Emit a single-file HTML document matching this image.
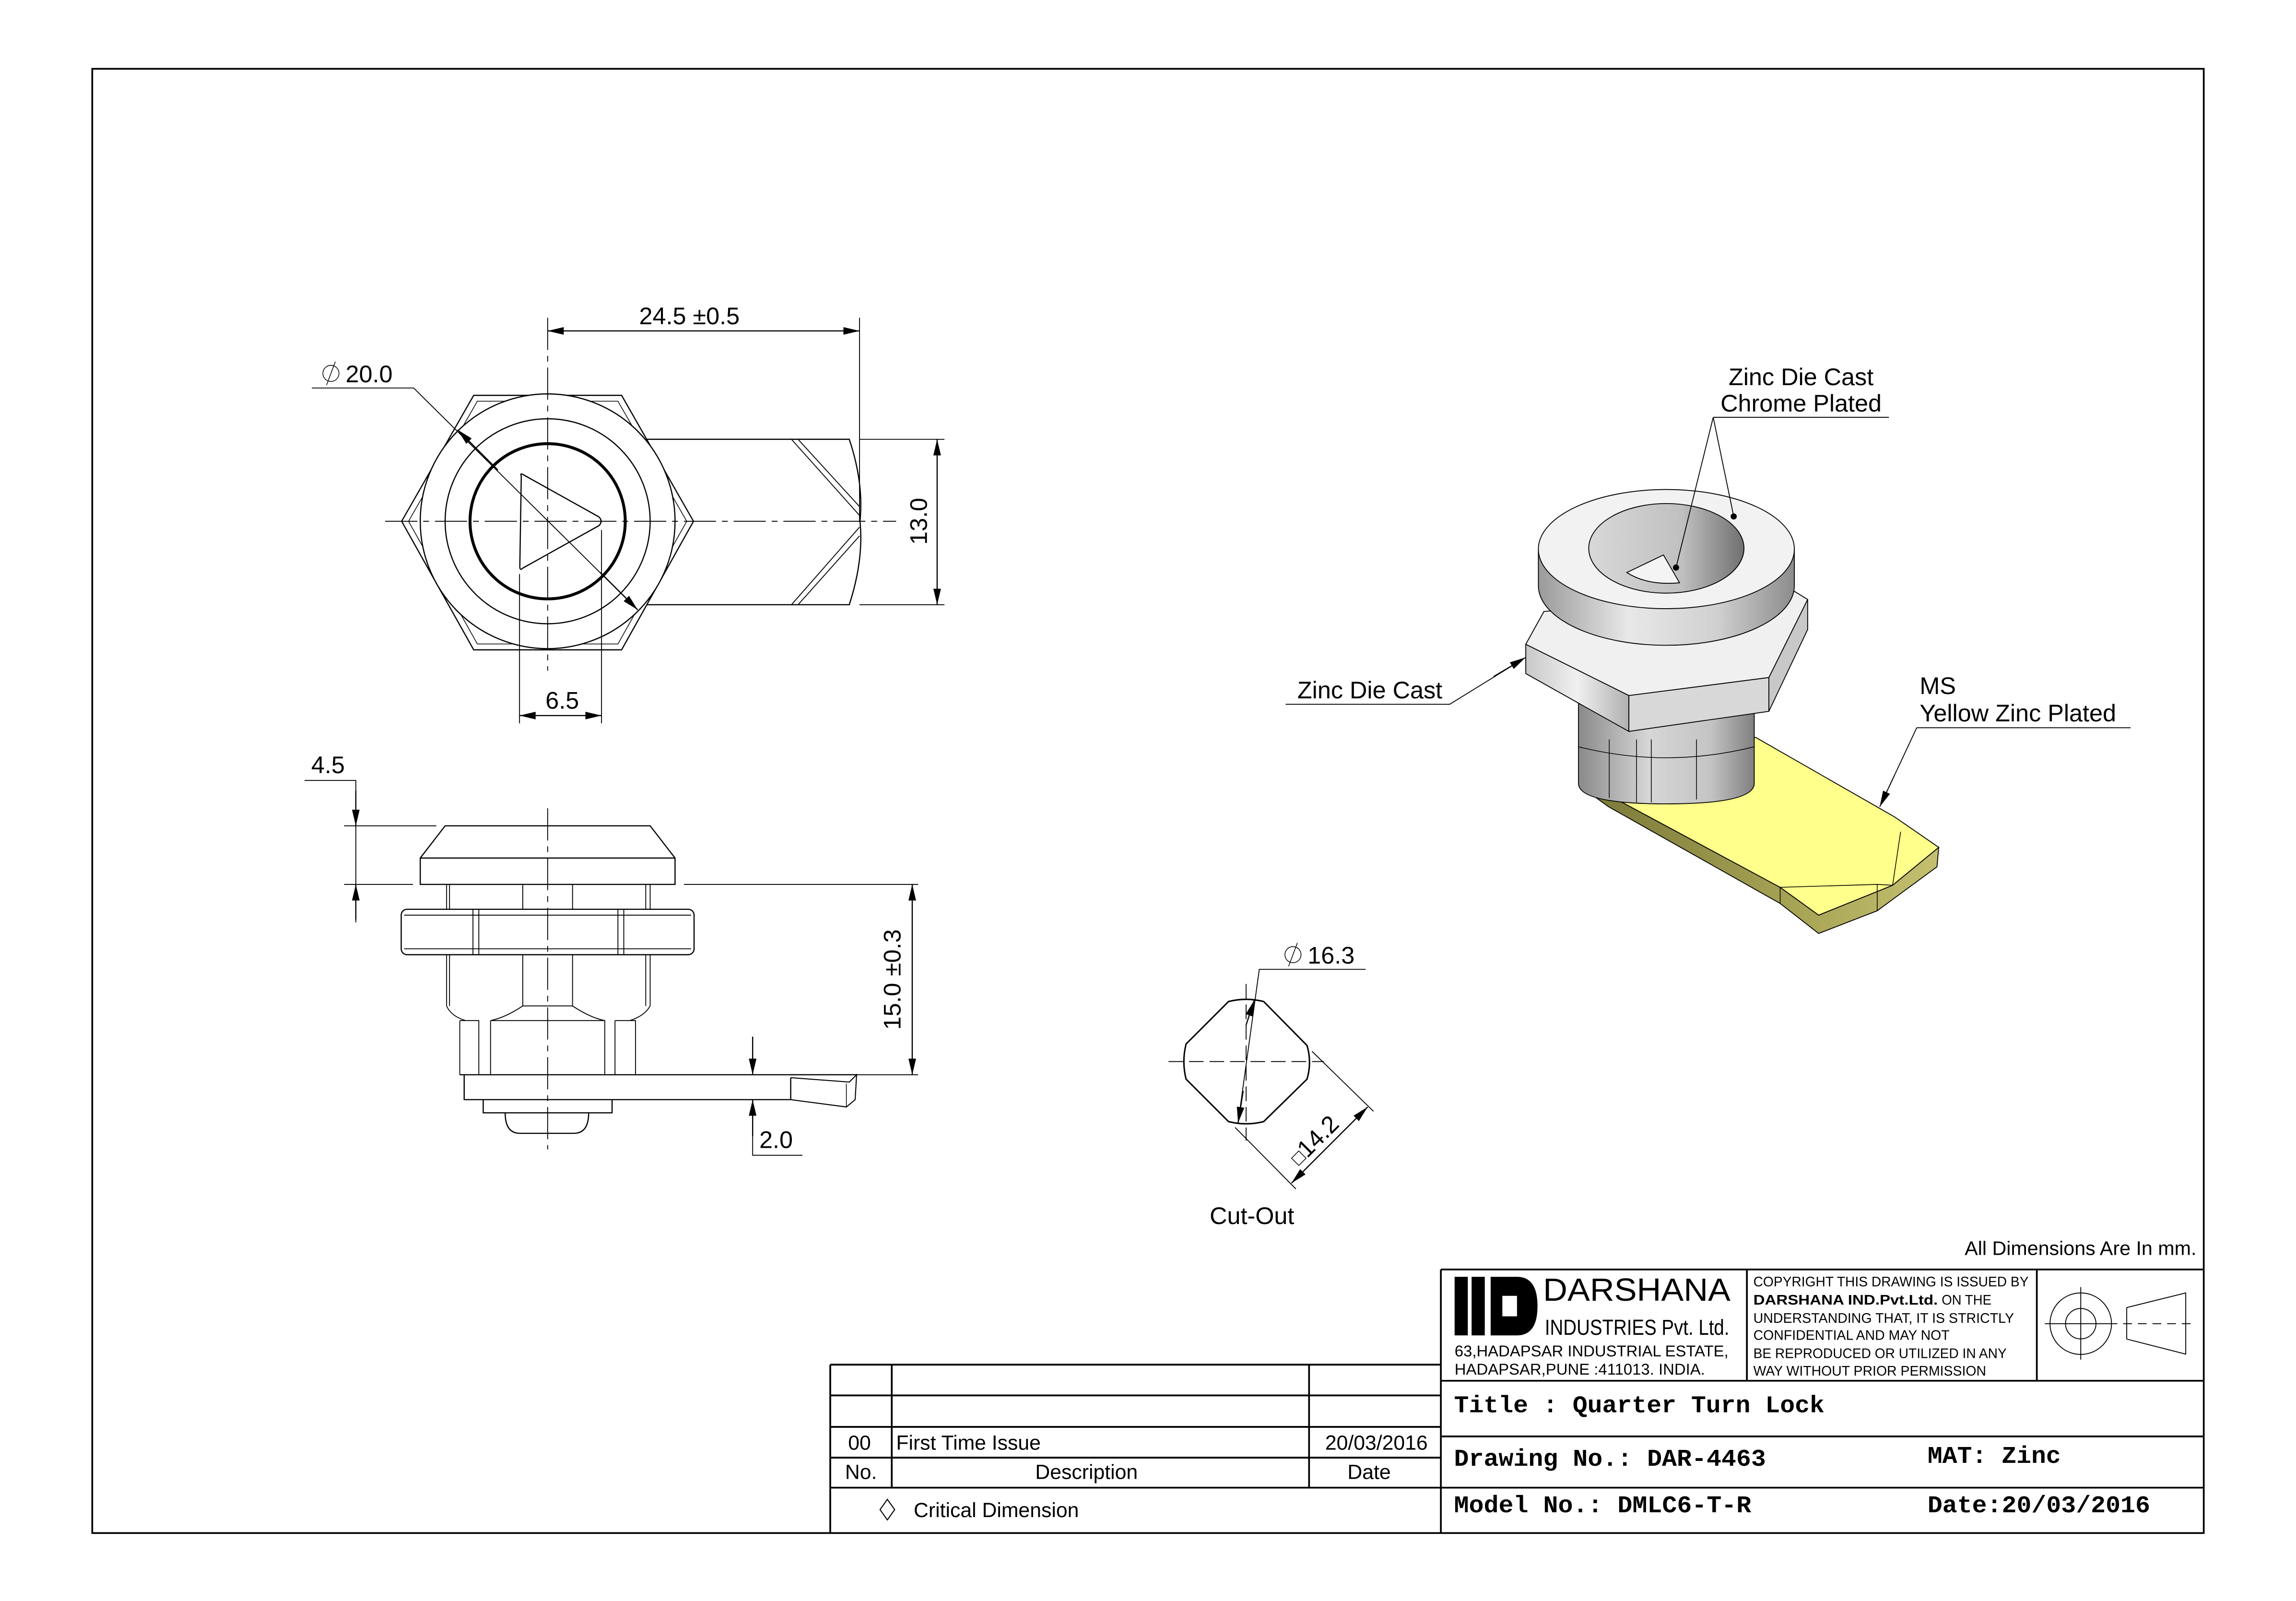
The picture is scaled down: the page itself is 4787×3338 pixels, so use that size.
<!DOCTYPE html>
<html><head><meta charset="utf-8"><style>
html,body{margin:0;padding:0;background:#fff;}
svg{display:block;}
text{font-family:"Liberation Sans",sans-serif;fill:#000;}
.m{font-family:"Liberation Mono",monospace;font-weight:bold;}
</style></head><body>
<svg width="4787" height="3338" viewBox="0 0 1568 1093.4" preserveAspectRatio="none" xmlns="http://www.w3.org/2000/svg">
<defs>
<marker id="a" markerUnits="userSpaceOnUse" markerWidth="12" markerHeight="6" refX="11" refY="3" orient="auto-start-reverse"><path d="M0,0.4 L11,3 L0,5.6 Z" fill="#000"/></marker>
<linearGradient id="gc" x1="0" x2="1"><stop offset="0" stop-color="#9a9a9a"/><stop offset="0.35" stop-color="#e8e8e8"/><stop offset="0.7" stop-color="#d0d0d0"/><stop offset="1" stop-color="#8c8c8c"/></linearGradient>
<linearGradient id="gh" x1="0" x2="1"><stop offset="0" stop-color="#c8c8c8"/><stop offset="0.5" stop-color="#f0f0f0"/><stop offset="1" stop-color="#b0b0b0"/></linearGradient>
<linearGradient id="gi" x1="0" x2="1"><stop offset="0" stop-color="#d8d8d8"/><stop offset="0.6" stop-color="#c0c0c0"/><stop offset="1" stop-color="#707070"/></linearGradient>
<linearGradient id="gb" x1="0" x2="1"><stop offset="0" stop-color="#8a8a8a"/><stop offset="0.4" stop-color="#d6d6d6"/><stop offset="0.75" stop-color="#c4c4c4"/><stop offset="1" stop-color="#808080"/></linearGradient>
<linearGradient id="gy" x1="0" x2="1"><stop offset="0" stop-color="#7a7838"/><stop offset="0.6" stop-color="#a8a456"/><stop offset="1" stop-color="#c4c070"/></linearGradient>
</defs>

<!-- border -->
<rect x="63" y="47" width="1442" height="1000" fill="none" stroke="#000" stroke-width="1.2"/>

<g fill="none" stroke="#000" stroke-width="0.8">
<!-- ===== TOP VIEW ===== -->
<polygon points="274.3,356 323.5,270 424.5,270 473.6,356 424.5,443.8 323.5,443.8"/>
<polygon points="279,356 326,274 422,274 469,356 422,439.8 326,439.8" stroke-width="0.5"/>
<path d="M442,300 H540.5 L580,300 Q590,330 587.3,356 Q590,382 580,413 H540.5 H442" />
<path d="M540.5,300 L587,352 M545,300 L587,346 M540.5,413 L587,360 M545,413 L587,366" stroke-width="0.6"/>
<circle cx="374" cy="356" r="87" fill="#fff"/>
<circle cx="374" cy="356" r="70"/>
<circle cx="374" cy="356" r="53" stroke-width="2"/>
<path d="M356,325 Q355,323 357,324 L409,353 Q412,356 409,359 L357,388 Q355,390 355,387 Z"/>
<path d="M263,356 H612" stroke-dasharray="22,4,4,4" stroke-width="0.6"/>
<path d="M374,217 V458" stroke-dasharray="22,4,4,4" stroke-width="0.6"/>
<!-- dims top -->
<path d="M374,226 H587" marker-start="url(#a)" marker-end="url(#a)"/>
<path d="M587,217 V356" stroke-width="0.6"/>
<path d="M587,300 H645 M587,413 H645" stroke-width="0.6"/>
<path d="M640,300 V413" marker-start="url(#a)" marker-end="url(#a)"/>
<path d="M354.8,392 V494 M410.8,362 V494" stroke-width="0.6"/>
<path d="M354.8,488.7 H410.8" marker-start="url(#a)" marker-end="url(#a)"/>
<path d="M213,265 H282.5 L435.5,416.5" stroke-width="0.6"/>
<path d="M340,321 L312.5,293.5" marker-end="url(#a)"/>
<path d="M410,391 L435.5,416.5" marker-end="url(#a)"/>

<!-- ===== FRONT VIEW ===== -->
<path d="M304,564 H444 L461,586 V604 H287 V586 Z" fill="#fff"/>
<path d="M287,586 H461"/>
<path d="M305,604 V621 M307,604 V621 M441,604 V621 M444,604 V621 M357,604 V621 M391,604 V621" stroke-width="0.6"/>
<rect x="274" y="621" width="200" height="31" rx="4" fill="#fff"/>
<path d="M276,625 H472 M276,648 H472 M323,621 V652 M327,621 V652 M422,621 V652 M426,621 V652" stroke-width="0.6"/>
<path d="M305,652 V687 M307,652 V687 M441,652 V687 M444,652 V687 M357,652 V687 M391,652 V687" stroke-width="0.6"/>
<path d="M305,687 Q308,694 318,697 M444,687 Q440,694 430,697 M357,687 H391 M357,687 Q345,695 335,697 M391,687 Q403,695 413,697" stroke-width="0.6"/>
<path d="M314,697 H327 V734 M314,697 V734 M335,697 H413 V734 M335,697 V734 M420,697 H434 V734 M420,697 V734" stroke-width="0.6"/>
<path d="M314,734 H585"/>
<path d="M317,734 V751 H540 M540,736 V751"/>
<path d="M540,736 L580,739 L585,734 L584,751 L578,756 L540,751" stroke-width="0.7"/>
<path d="M578,740 V756" stroke-width="0.5"/>
<path d="M330,751 V760 H418 V751"/>
<path d="M345,760 Q345,774 355,774 H392 Q402,774 402,760"/>
<path d="M374,552 V785" stroke-dasharray="22,4,4,4" stroke-width="0.6"/>
<!-- dims front -->
<path d="M208,533 H243 V630" stroke-width="0.6"/>
<path d="M243,540 V564" marker-end="url(#a)"/>
<path d="M243,628 V604" marker-end="url(#a)"/>
<path d="M235,564 H298 M235,604 H282" stroke-width="0.6"/>
<path d="M467,604 H627 M540,734 H627" stroke-width="0.6"/>
<path d="M623,604 V734" marker-start="url(#a)" marker-end="url(#a)"/>
<path d="M514,708 V734" marker-end="url(#a)"/>
<path d="M514,776 V751" marker-end="url(#a)"/>
<path d="M514,751 V789 H548" stroke-width="0.6"/>

<!-- ===== CUT-OUT ===== -->
<path d="M839,684 Q851,681 863,684 L892.6,714 Q896,725.5 892.6,737 L863,766 Q851,769 839,766 L810,737 Q807,725 810,713 Z" stroke-width="1"/>
<path d="M798,725 H904 M851,672 V779" stroke-dasharray="10,4" stroke-width="0.6"/>
<path d="M845.5,767 L860,662 H932.6" stroke-width="0.6"/>
<path d="M851,700 L856.6,683" marker-end="url(#a)"/>
<path d="M849,745 L845.5,767" marker-end="url(#a)"/>
<path d="M896,718 L938,759 M843.5,770 L885,812" stroke-width="0.6"/>
<path d="M882,808 L934,756" marker-start="url(#a)" marker-end="url(#a)"/>
<circle cx="883" cy="652" r="5.5" stroke-width="0.5"/><path d="M880,660 L886,644" stroke-width="0.5"/>

<!-- title block -->
<g stroke-width="1.2">
<path d="M984,867 H1505 M984,867 V1047 M984,943 H1505 M984,981 H1505 M984,1016 H1505 M1193,867 V943 M1391,867 V943"/>
<path d="M567,932 H984 M567,953 H984 M567,974.5 H984 M567,995.5 H984 M567,1016 H984 M567,932 V1047 M609,932 V1016 M894,932 V1016"/>
</g>
<!-- projection symbol -->
<circle cx="1421" cy="904" r="21" stroke-width="0.6"/><circle cx="1421" cy="904" r="10.4" stroke-width="0.6"/>
<path d="M1396.5,904 H1440 M1421,879 V928.6 M1417,904 H1425" stroke-width="0.6"/>
<path d="M1440,904 H1496.6" stroke-dasharray="6,4" stroke-width="0.6"/>
<path d="M1452.4,893 L1492.7,883 V924.8 L1452.4,914.5 Z" stroke-width="0.6"/>
<path d="M606,1024 L611,1031 L606,1038 L601,1031 Z" stroke-width="0.7"/>
</g>

<!-- logo -->
<g fill="#000">
<rect x="993.4" y="872" width="9" height="40"/><rect x="1005" y="872" width="9" height="40"/>
<path d="M1017,872 H1036 Q1050,872 1050,892 Q1050,912 1036,912 H1017 Z M1026,885 V899 H1036 V885 Z"/>
</g>
<rect x="1016" y="872" width="2" height="40" fill="#fff"/>

<!-- ===== 3D VIEW ===== -->
<g stroke="#000" stroke-width="0.6">
<!-- cam -->
<path d="M1082,527 L1098.6,543 L1215.7,606 L1242,625 L1292.5,604.6 L1324,578.7 L1322.8,592 L1282,622 L1242,637.5 L1215.7,617 L1098.6,551 L1082,539 Z" fill="url(#gy)"/>
<path d="M1082,520 L1199,503.6 L1294,558 L1324,578.7 L1292.5,604.6 L1242,625 L1215.7,606 L1098.6,543 L1082,527 Z" fill="#ffff8c"/>
<path d="M1215.7,606 L1282,604 L1292.5,604.6 M1298,568 L1292.5,604.6 M1215.7,606 V617 M1282,604 V622" fill="none" stroke-width="0.5"/>
<!-- body -->
<path d="M1078,478 V535 Q1078,549 1138,549 Q1198,549 1198,535 V478 Z" fill="url(#gb)"/>
<path d="M1099,505 V545 M1117.6,505 V548 M1127.7,505 V548 M1158.6,505 V546 M1078,510 Q1138,525 1198,510" fill="none" stroke-width="0.5"/>
<!-- hex -->
<path d="M1042,440 L1112.4,475 L1112.4,499.5 L1042,460 Z" fill="url(#gh)"/>
<path d="M1112.4,475 L1208,462.7 L1208,485.8 L1112.4,499.5 Z" fill="#d8d8d8"/>
<path d="M1208,462.7 L1234.5,409.4 L1234.5,429.9 L1208,485.8 Z" fill="#c8c8c8"/>
<path d="M1054.4,417.6 L1225.7,404 L1234.5,409.4 L1208,462.7 L1112.4,475 L1042,440 Z" fill="#f0f0f0"/>
<!-- cap -->
<path d="M1050.6,375 V400 A87.4,40.7 0 0 0 1225.4,400 V375 Z" fill="url(#gc)"/>
<ellipse cx="1138" cy="375" rx="87.4" ry="40.7" fill="#f2f2f2"/>
<ellipse cx="1138" cy="374.5" rx="53" ry="30.6" fill="url(#gi)"/>
<path d="M1111,391 L1136,379 L1147,398 Q1125,400 1111,391 Z" fill="#f4f4f4"/>
</g>
<g fill="none" stroke="#000" stroke-width="0.6">
<path d="M1170,285 H1290 M1170,285 L1144.6,387.6 M1170,285 L1184,352.7"/>
<circle cx="1144.6" cy="387.6" r="1.8" fill="#000"/><circle cx="1184" cy="352.7" r="1.8" fill="#000"/>
<path d="M878,481 H990 L1041.9,449" />
<path d="M1020,462 L1041.9,449" marker-end="url(#a)"/>
<path d="M1309,497 H1455 M1309,497 L1283.7,551"/>
<path d="M1294,529 L1283.7,551" marker-end="url(#a)"/>
</g>

<!-- ===== TEXT ===== -->
<g font-size="16.5">
<text x="470.8" y="221.5" text-anchor="middle">24.5 ±0.5</text>
<text x="236" y="261" >20.0</text>
<circle cx="226" cy="255" r="5.5" fill="none" stroke="#000" stroke-width="0.5"/><path d="M223,263 L229,247" stroke="#000" stroke-width="0.5"/>
<text transform="translate(633,356) rotate(-90)" text-anchor="middle">13.0</text>
<text x="384" y="484" text-anchor="middle">6.5</text>
<text x="224" y="528" text-anchor="middle">4.5</text>
<text transform="translate(615,669) rotate(-90)" text-anchor="middle">15.0 ±0.3</text>
<text x="530" y="784" text-anchor="middle">2.0</text>
<text x="893" y="658">16.3</text>
<text transform="translate(904,780) rotate(-45)" text-anchor="middle">14.2</text>
<text x="855" y="836" text-anchor="middle">Cut-Out</text>
<text x="1230" y="263" text-anchor="middle">Zinc Die Cast</text>
<text x="1230" y="281" text-anchor="middle">Chrome Plated</text>
<text x="985" y="477" text-anchor="end">Zinc Die Cast</text>
<text x="1311" y="474">MS</text>
<text x="1311" y="492.6">Yellow Zinc Plated</text>
</g>
<rect x="0" y="0" width="7" height="7" fill="none" stroke="#000" stroke-width="0.5" transform="translate(887,791) rotate(-45) translate(-3.5,-3.5)"/>

<text x="1500" y="857" font-size="13.5" text-anchor="end">All Dimensions Are In mm.</text>
<text x="1053.8" y="888.4" font-size="22" textLength="128" lengthAdjust="spacingAndGlyphs">DARSHANA</text>
<text x="1055" y="911.6" font-size="15" textLength="126" lengthAdjust="spacingAndGlyphs">INDUSTRIES Pvt. Ltd.</text>
<text x="993.4" y="926.3" font-size="10.5" textLength="187" lengthAdjust="spacingAndGlyphs">63,HADAPSAR INDUSTRIAL ESTATE,</text>
<text x="993.4" y="938.8" font-size="10.5" textLength="171" lengthAdjust="spacingAndGlyphs">HADAPSAR,PUNE :411013. INDIA.</text>
<g font-size="9.3">
<text x="1197.4" y="878.5" textLength="188" lengthAdjust="spacingAndGlyphs">COPYRIGHT THIS DRAWING IS ISSUED BY</text>
<text x="1197.4" y="891" textLength="126" lengthAdjust="spacingAndGlyphs" font-weight="bold">DARSHANA IND.Pvt.Ltd.</text>
<text x="1326" y="891" textLength="34" lengthAdjust="spacingAndGlyphs">ON THE</text>
<text x="1197.4" y="903.5" textLength="178" lengthAdjust="spacingAndGlyphs">UNDERSTANDING THAT, IT IS STRICTLY</text>
<text x="1197.4" y="915" textLength="134" lengthAdjust="spacingAndGlyphs">CONFIDENTIAL AND MAY NOT</text>
<text x="1197.4" y="927.5" textLength="173" lengthAdjust="spacingAndGlyphs">BE REPRODUCED OR UTILIZED IN ANY</text>
<text x="1197.4" y="939.4" textLength="159" lengthAdjust="spacingAndGlyphs">WAY WITHOUT PRIOR PERMISSION</text>
</g>
<g class="m" font-size="16.5">
<text class="m" x="993" y="964.5" textLength="253" lengthAdjust="spacingAndGlyphs">Title : Quarter Turn Lock</text>
<text class="m" x="993" y="1001" textLength="213" lengthAdjust="spacingAndGlyphs">Drawing No.: DAR-4463</text>
<text class="m" x="1316.4" y="999" textLength="91" lengthAdjust="spacingAndGlyphs">MAT: Zinc</text>
<text class="m" x="993" y="1032.8" textLength="203" lengthAdjust="spacingAndGlyphs">Model No.: DMLC6-T-R</text>
<text class="m" x="1316.4" y="1032.8" textLength="152" lengthAdjust="spacingAndGlyphs">Date:20/03/2016</text>
</g>
<g font-size="14">
<text x="587" y="990" text-anchor="middle">00</text>
<text x="612" y="990">First Time Issue</text>
<text x="940" y="990" text-anchor="middle" textLength="70" lengthAdjust="spacingAndGlyphs">20/03/2016</text>
<text x="588" y="1010" text-anchor="middle">No.</text>
<text x="742" y="1010" text-anchor="middle">Description</text>
<text x="935" y="1010" text-anchor="middle">Date</text>
<text x="624" y="1036">Critical Dimension</text>
</g>
</svg>
</body></html>
